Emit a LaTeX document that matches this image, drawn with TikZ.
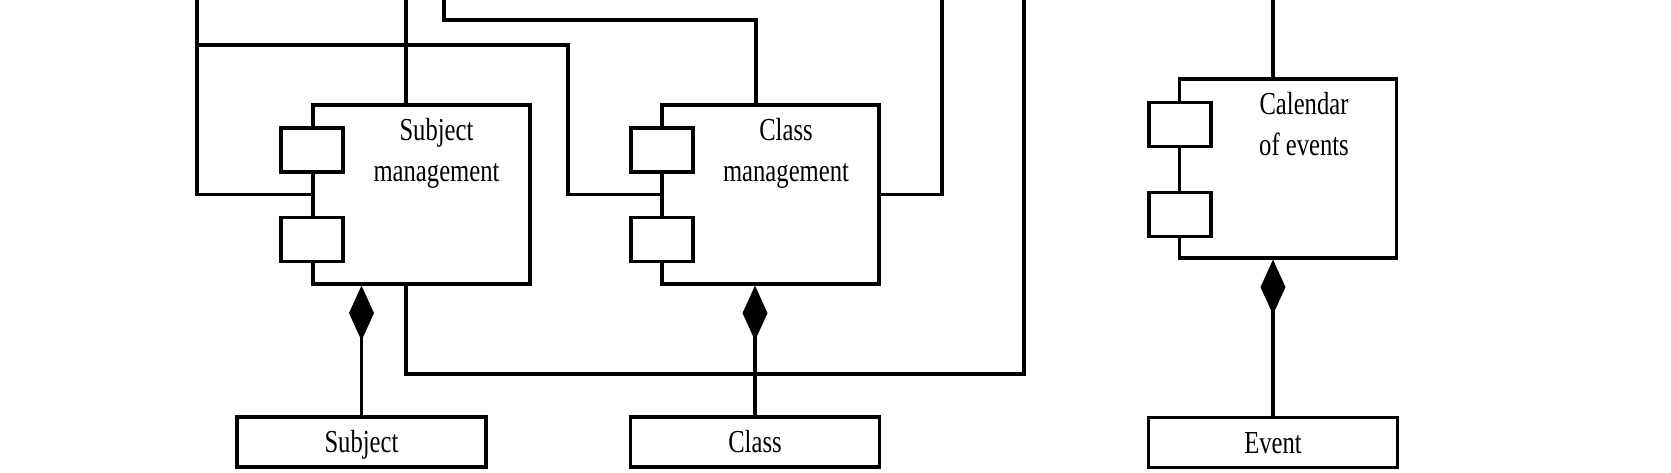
\documentclass[tikz,border=0pt]{standalone}
\usepackage{fontspec}
\setmainfont{Liberation Serif}[FakeStretch=0.77]
\usetikzlibrary{arrows.meta}
\begin{document}
\begin{tikzpicture}[x=1pt,y=-1pt,
  wire/.style={draw=black,line width=3.2pt},
  compbox/.style={draw=black,line width=3.2pt,rectangle,inner sep=0pt,minimum width=217pt,minimum height=179pt},
  portbox/.style={draw=black,fill=white,line width=3.2pt,rectangle,inner sep=0pt,minimum width=62pt,minimum height=44pt},
  classbox/.style={draw=black,line width=3.2pt,rectangle,inner sep=0pt,minimum width=249pt,minimum height=50pt,
    font=\fontsize{32}{41}\selectfont,text height=21pt,text depth=0pt},
  lbl/.style={inner sep=0pt,align=center,anchor=base,font=\fontsize{32}{41}\selectfont},
  comp/.style={wire,-{Diamond[length=55pt,width=25pt,fill=black]}}
]
\useasboundingbox (0,0) rectangle (1671,473);
% component boxes
\node[compbox] (sm) at (421.5,194.5) {};
\node[compbox] (cm) at (770.5,194.5) {};
\node[compbox] (cal) at (1288,168.5) {};
% ports
\node[portbox] (sm1) at (312,150) {};
\node[portbox] (sm2) at (312,239.5) {};
\node[portbox] (cm1) at (662,150) {};
\node[portbox] (cm2) at (662,239.5) {};
\node[portbox] (cal1) at (1180,124.5) {};
\node[portbox] (cal2) at (1180,214.5) {};
% labels (anchor base = baseline of last line)
\node[lbl] (sml) at (436.5,182) {Subject\\management};
\node[lbl] (cml) at (786,182) {Class\\management};
\node[lbl] (call) at (1304,156) {Calendar\\of events};
% classes
\node[classbox] (subj) at (361.5,442) {Subject};
\node[classbox] (cls) at (755,442) {Class};
\node[classbox] (evt) at (1273,442.5) {Event};
% free ends at the top
\coordinate (t1) at (197,0);
\coordinate (j1) at (197,45);
\coordinate (b1) at (568,45);
\coordinate (t2) at (406,0);
\coordinate (t3) at (444,0);
\coordinate (c3) at (756,20);
\coordinate (t4) at (942,0);
\coordinate (t5) at (1024,0);
\coordinate (c5) at (1024,374);
\coordinate (t6) at (1273,0);
% connectors
\draw[wire] (t1) |- (sm.west);
\draw[wire] (j1) -- (b1) |- (cm.west);
\draw[wire] (t2) -- (t2 |- sm.north);
\draw[wire] (t3) |- (c3) -- (c3 |- cm.north);
\draw[wire] (t4) |- (cm.east);
\draw[wire] (t5) -- (c5) -| (t2 |- sm.south);
\draw[wire] (t6) -- (t6 |- cal.north);
% compositions
\draw[comp] (subj.north) -- (subj.north |- sm.south);
\draw[comp] (cls.north) -- (cls.north |- cm.south);
\draw[comp] (evt.north) -- (evt.north |- cal.south);
\end{tikzpicture}
\end{document}
